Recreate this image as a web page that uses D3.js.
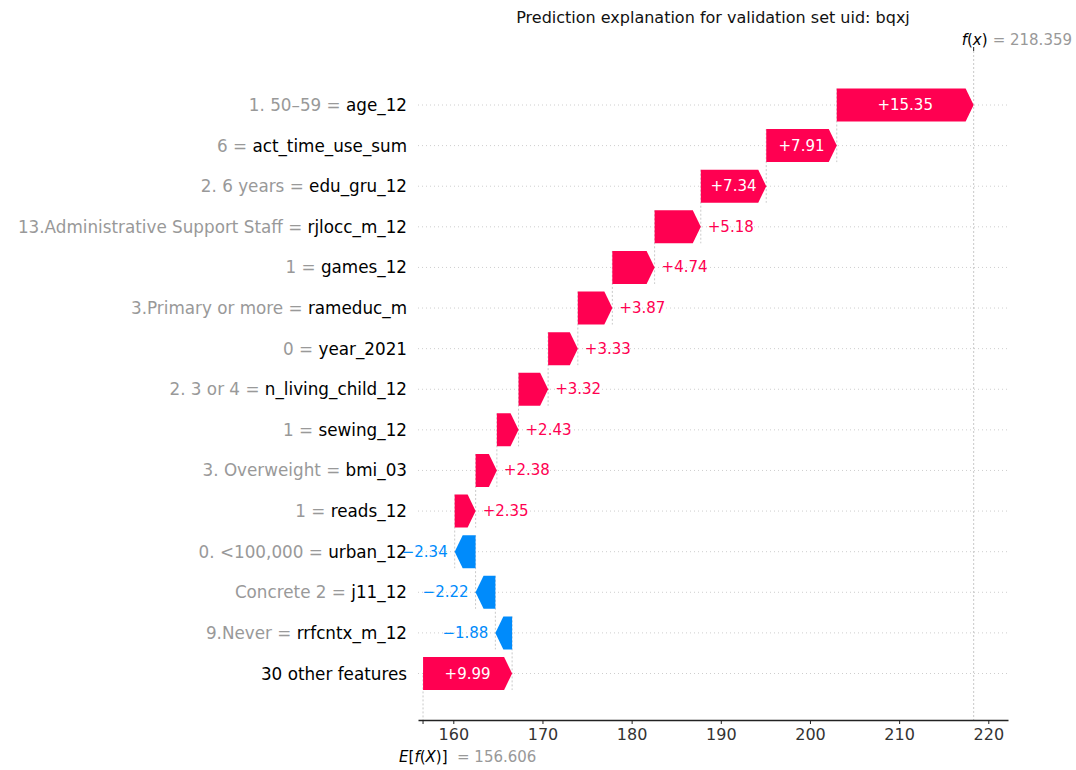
<!DOCTYPE html>
<html><head><meta charset="utf-8">
<script src="https://cdn.jsdelivr.net/npm/d3@7"></script>
<style>
body{margin:0;background:#fff;}
text{font-family:"DejaVu Sans",sans-serif;}
</style>
</head><body>
<svg id="chart" width="1076" height="770"></svg>
<script>
// ---- data ----
const featureValues = ["1. 50–59", "6", "2. 6 years", "13.Administrative Support Staff", "1", "3.Primary or more", "0", "2. 3 or 4", "1", "3. Overweight", "1", "0. <100,000", "Concrete 2", "9.Never", ""];
const featureNames = ["age_12", "act_time_use_sum", "edu_gru_12", "rjlocc_m_12", "games_12", "rameduc_m", "year_2021", "n_living_child_12", "sewing_12", "bmi_03", "reads_12", "urban_12", "j11_12", "rrfcntx_m_12", "30 other features"];
const shapValues = [15.35, 7.91, 7.34, 5.18, 4.74, 3.87, 3.33, 3.32, 2.43, 2.38, 2.35, -2.34, -2.22, -1.88, 9.99];
const baseValue = 156.606;
const fxValue = 218.359;
const xTickValues = [160, 170, 180, 190, 200, 210, 220];
const titleText = "Prediction explanation for validation set uid: bqxj";

// ---- layout ----
const POS = "#ff0051", NEG = "#008bfb";
const axLeft = 418, axRight = 1008, axTop = 51, axBottom = 720;
const barH = 33, headLen = 8;

const x = d3.scaleLinear().domain([160, 220]).range([453.3, 988.3]);
const xAxisScale = d3.scaleLinear().domain([x.invert(axLeft), x.invert(axRight)]).range([axLeft, axRight]);
const y = d3.scalePoint().domain(d3.range(featureNames.length)).range([105, 673.5]);

// cumulative from the bottom (base value) upward
const n = shapValues.length;
const starts = new Array(n), ends = new Array(n);
let cum = baseValue;
for (let i = n - 1; i >= 0; i--) { starts[i] = cum; cum += shapValues[i]; ends[i] = cum; }

const svg = d3.select("#chart");

// horizontal dotted row lines
svg.append("g").selectAll("line").data(d3.range(n)).join("line")
  .attr("x1", axLeft).attr("x2", axRight)
  .attr("y1", i => y(i)).attr("y2", i => y(i))
  .attr("stroke", "#c8c8c8").attr("stroke-width", 0.9).attr("stroke-dasharray", "1,3");

// vertical connector lines: at start of bar i, from top of bar i to bottom of bar i+1
svg.append("g").selectAll("line").data(d3.range(n - 1)).join("line")
  .attr("x1", i => x(starts[i])).attr("x2", i => x(starts[i]))
  .attr("y1", i => y(i) - barH / 2).attr("y2", i => y(i + 1) + barH / 2)
  .attr("stroke", "#bbbbbb").attr("stroke-width", 0.8).attr("stroke-dasharray", "2,2");

// f(x) line and E line
svg.append("line").attr("x1", x(fxValue)).attr("x2", x(fxValue)).attr("y1", axTop).attr("y2", axBottom)
  .attr("stroke", "#bbbbbb").attr("stroke-width", 0.8).attr("stroke-dasharray", "2,2");
svg.append("line").attr("x1", x(baseValue)).attr("x2", x(baseValue))
  .attr("y1", axBottom - (axBottom - axTop) / n).attr("y2", axBottom)
  .attr("stroke", "#bbbbbb").attr("stroke-width", 0.8).attr("stroke-dasharray", "2,2");

// bars
const bars = svg.append("g");
d3.range(n).forEach(i => {
  const v = shapValues[i];
  const cy = y(i), top = cy - barH / 2, bot = cy + barH / 2;
  const x0 = x(starts[i]), x1 = x(ends[i]);
  const w = Math.abs(x1 - x0);
  const hl = Math.min(headLen, w);
  let pts;
  if (v >= 0) {
    pts = [[x0, top], [x1 - hl, top], [x1, cy], [x1 - hl, bot], [x0, bot]];
  } else {
    pts = [[x0, top], [x1 + hl, top], [x1, cy], [x1 + hl, bot], [x0, bot]];
  }
  bars.append("path").attr("d", "M" + pts.map(p => p.join(",")).join("L") + "Z")
    .attr("fill", v >= 0 ? POS : NEG);

  const label = (v >= 0 ? "+" : "\u2212") + Math.abs(v).toFixed(2);
  const t = bars.append("text").text(label)
    .attr("font-size", 15).attr("dominant-baseline", "central")
    .attr("y", cy);
  const tw = t.node().getComputedTextLength();
  if (tw < w - 4) {
    t.attr("x", (x0 + x1) / 2).attr("text-anchor", "middle").attr("fill", "#fff");
  } else if (v >= 0) {
    t.attr("x", x1 + 7).attr("text-anchor", "start").attr("fill", POS);
  } else {
    t.attr("x", x1 - 7).attr("text-anchor", "end").attr("fill", NEG);
  }
});

// y labels
const yl = svg.append("g");
d3.range(n).forEach(i => {
  const t = yl.append("text").attr("x", 407).attr("y", y(i)).attr("text-anchor", "end")
    .attr("dominant-baseline", "central").attr("font-size", 16.8);
  if (featureValues[i] !== "") {
    t.append("tspan").attr("fill", "#999999").text(featureValues[i] + " = ");
  }
  t.append("tspan").attr("fill", "#000").text(featureNames[i]);
});

// bottom axis
const axis = d3.axisBottom(xAxisScale).tickValues(xTickValues).tickSizeOuter(0).tickSizeInner(4).tickPadding(5);
const ag = svg.append("g").attr("transform", `translate(0,${axBottom})`).call(axis);
ag.select(".domain").attr("stroke", "#222").attr("stroke-width", 1.3);
ag.selectAll(".tick line").attr("stroke", "#222");
ag.selectAll(".tick text").attr("font-size", 16).attr("fill", "#333").attr("font-family", "DejaVu Sans");
// tick at base value
svg.append("line").attr("x1", x(baseValue)).attr("x2", x(baseValue)).attr("y1", axBottom).attr("y2", axBottom + 4).attr("stroke", "#222");

// E[f(X)] label
const eT = svg.append("text").attr("x", x(baseValue) - 24).attr("y", 762).attr("font-size", 15);
eT.append("tspan").attr("font-style", "italic").attr("fill", "#000").text("E");
eT.append("tspan").attr("fill", "#000").text("[");
eT.append("tspan").attr("font-style", "italic").attr("fill", "#000").text("f");
eT.append("tspan").attr("fill", "#000").text("(");
eT.append("tspan").attr("font-style", "italic").attr("fill", "#000").text("X");
eT.append("tspan").attr("fill", "#000").text(")]");
svg.append("text").attr("x", x(baseValue) + 34).attr("y", 762).attr("font-size", 15).attr("fill", "#999999")
  .text("= " + baseValue.toFixed(3));

// top f(x) tick and label
svg.append("line").attr("x1", x(fxValue)).attr("x2", x(fxValue)).attr("y1", axTop - 4).attr("y2", axTop).attr("stroke", "#222");
const fT = svg.append("text").attr("x", x(fxValue) - 12).attr("y", 45).attr("font-size", 15);
fT.append("tspan").attr("font-style", "italic").attr("fill", "#000").text("f");
fT.append("tspan").attr("fill", "#000").text("(");
fT.append("tspan").attr("font-style", "italic").attr("fill", "#000").text("x");
fT.append("tspan").attr("fill", "#000").text(")");
svg.append("text").attr("x", x(fxValue) + 19).attr("y", 45).attr("font-size", 15).attr("fill", "#999999")
  .text("= " + fxValue.toFixed(3));

// title
svg.append("text").attr("x", (axLeft + axRight) / 2).attr("y", 23).attr("text-anchor", "middle")
  .attr("font-size", 16).attr("fill", "#111").text(titleText);
</script>
</body></html>
